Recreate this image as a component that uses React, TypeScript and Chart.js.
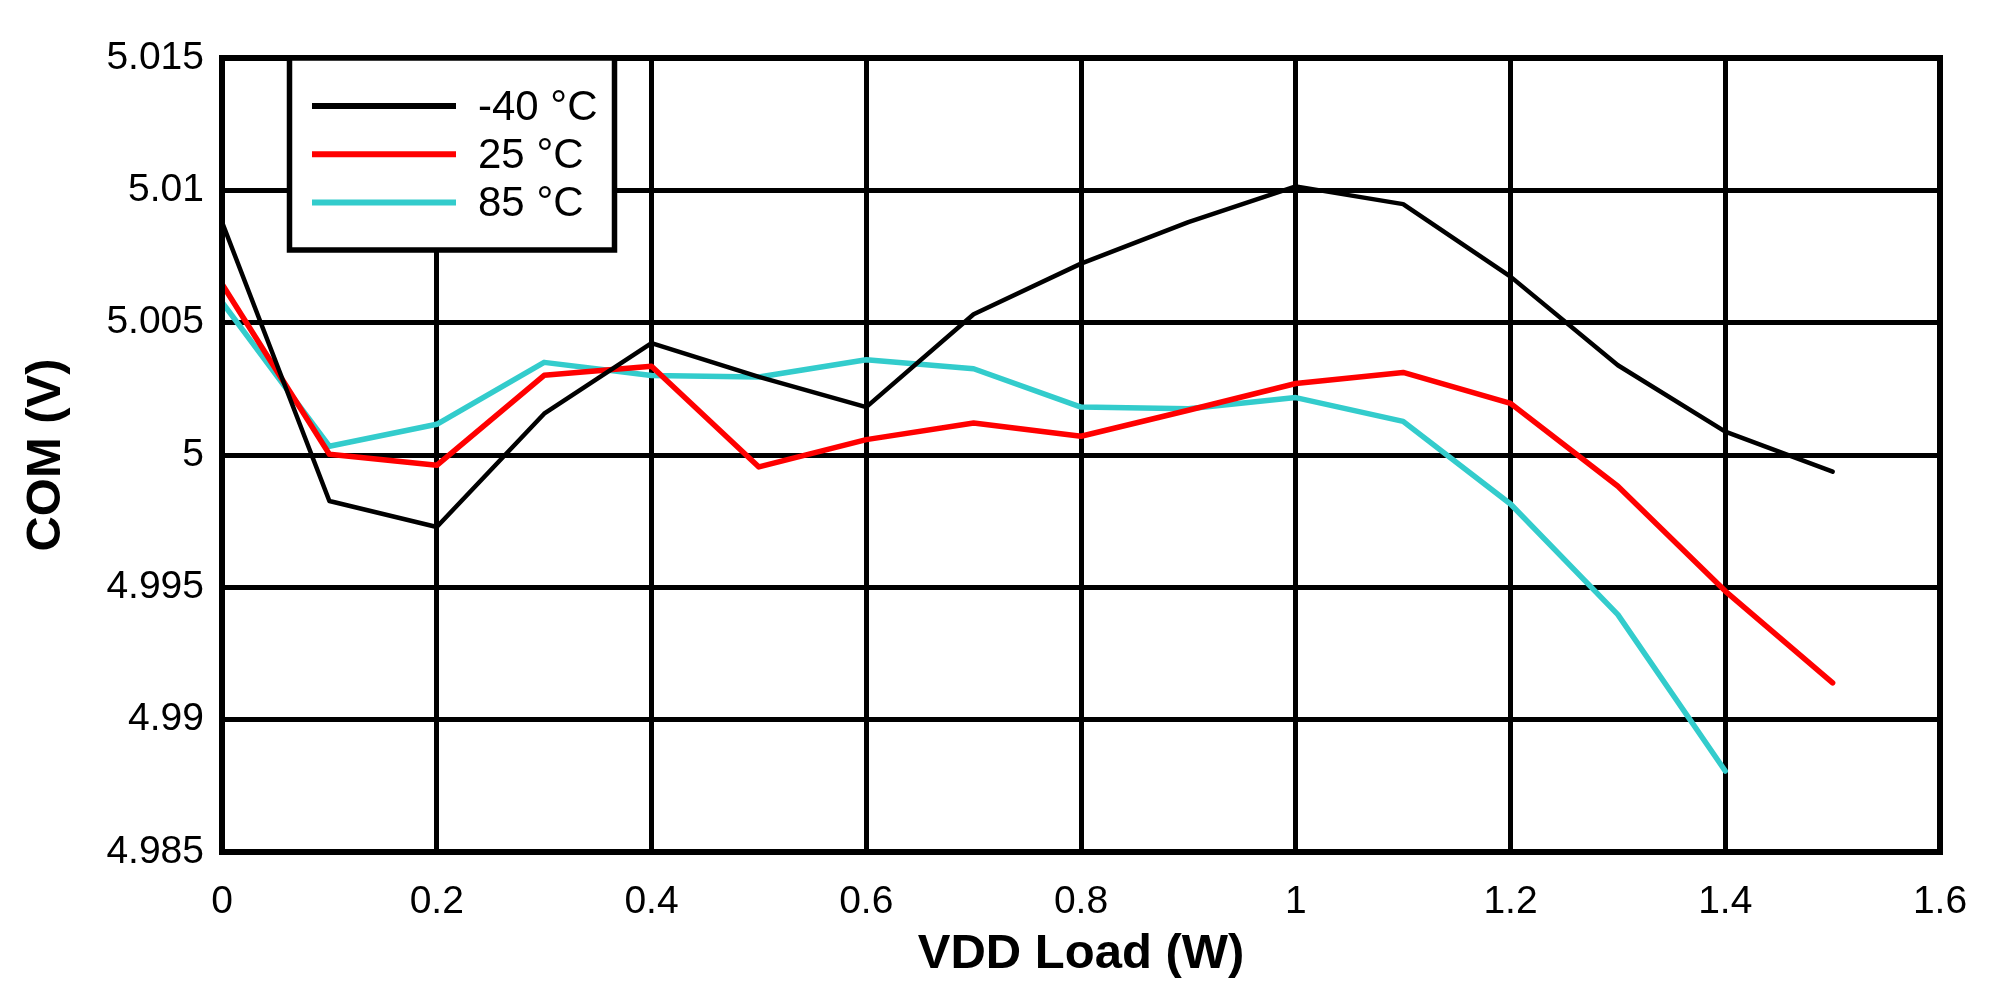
import React, { useEffect, useRef } from "react";
import { Chart, registerables } from "chart.js";

Chart.register(...registerables);

const xValues = [0, 0.1, 0.2, 0.3, 0.4, 0.5, 0.6, 0.7, 0.8, 0.9, 1.0, 1.1, 1.2, 1.3, 1.4, 1.5];
const seriesM40 = [5.0088, 4.99826, 4.99728, 5.00156, 5.00423, 5.00295, 5.00181, 5.00532, 5.00723, 5.0088, 5.01015, 5.00948, 5.00674, 5.00339, 5.00088, 4.99937];
const series25 = [5.00646, 5.00003, 4.99961, 5.00301, 5.00335, 4.99955, 5.00058, 5.00121, 5.00071, 5.00169, 5.0027, 5.00312, 5.00195, 4.99882, 4.99486, 4.99139];
const series85 = [5.00578, 5.00033, 5.00116, 5.0035, 5.003, 5.00295, 5.0036, 5.00326, 5.00181, 5.00175, 5.00217, 5.00127, 4.99815, 4.99397, 4.98806];
const seriesLabels = ["-40 °C", "25 °C", "85 °C"];
const seriesColors = ["#000000", "#FF0000", "#33CCCC"];
const seriesWidths = [4.5, 5.5, 5.5];
const xTicks = [0, 0.2, 0.4, 0.6, 0.8, 1, 1.2, 1.4, 1.6];
const yTicks = [4.985, 4.99, 4.995, 5, 5.005, 5.01, 5.015];
const xTitle = "VDD Load (W)";
const yTitle = "COM (V)";

const FONT = "'Liberation Sans', Arial, Helvetica, sans-serif";

const toPoints = (vals: number[]) => vals.map((v, i) => ({ x: xValues[i], y: v }));

const framePlugin = {
  id: "frameAndLegend",
  afterDatasetsDraw(chart: any) {
    const { ctx, chartArea: ca } = chart;
    ctx.save();
    // plot frame
    ctx.strokeStyle = "#000";
    ctx.lineWidth = 6;
    ctx.strokeRect(ca.left, ca.top, ca.right - ca.left, ca.bottom - ca.top);
    // legend box
    const bx = ca.left + 67.5;
    const by = ca.top;
    const bw = 325;
    const bh = 192;
    ctx.fillStyle = "#fff";
    ctx.fillRect(bx, by, bw, bh);
    ctx.lineWidth = 5.5;
    ctx.strokeRect(bx, by, bw, bh);
    chart.data.datasets.forEach((ds: any, i: number) => {
      const y = ca.top + 48 + i * 48.3;
      ctx.strokeStyle = ds.borderColor;
      ctx.lineWidth = 6;
      ctx.beginPath();
      ctx.moveTo(ca.left + 90, y);
      ctx.lineTo(ca.left + 234, y);
      ctx.stroke();
      ctx.fillStyle = "#000";
      ctx.font = `42px ${FONT}`;
      ctx.textAlign = "left";
      ctx.textBaseline = "middle";
      ctx.fillText(ds.label, ca.left + 256, y + 2);
    });
    ctx.restore();
  },
};

export default function App() {
  const ref = useRef<HTMLCanvasElement | null>(null);
  useEffect(() => {
    document.body.style.margin = "0";
    const canvas = ref.current!;
    const chart = new Chart(canvas, {
      type: "line",
      data: {
        datasets: [
          { label: seriesLabels[0], data: toPoints(seriesM40), borderColor: seriesColors[0], borderWidth: seriesWidths[0] },
          { label: seriesLabels[1], data: toPoints(series25), borderColor: seriesColors[1], borderWidth: seriesWidths[1] },
          { label: seriesLabels[2], data: toPoints(series85), borderColor: seriesColors[2], borderWidth: seriesWidths[2] },
        ],
      },
      options: {
        animation: false,
        responsive: false,
        maintainAspectRatio: false,
        devicePixelRatio: 1,
        elements: { point: { radius: 0 }, line: { tension: 0, fill: false, borderJoinStyle: "round", borderCapStyle: "round" } },
        layout: { padding: { left: 0, top: 58, right: 57, bottom: 0 } },
        plugins: { legend: { display: false }, tooltip: { enabled: false } },
        scales: {
          x: {
            type: "linear",
            min: 0,
            max: 1.6,
            afterBuildTicks: (s: any) => {
              s.ticks = xTicks.map((v) => ({ value: v }));
            },
            afterFit: (s: any) => {
              s.height = 143;
            },
            ticks: {
              color: "#000",
              font: { family: FONT, size: 39 },
              padding: 27,
              maxRotation: 0,
              autoSkip: false,
              callback: (v: any) => String(parseFloat(Number(v).toFixed(3))),
            },
            grid: { color: "#000", lineWidth: 5, drawTicks: false },
            border: { display: false },
            title: {
              display: true,
              text: xTitle,
              color: "#000",
              font: { family: FONT, size: 49, weight: "bold" },
              padding: { top: 0, bottom: 11 },
            },
          },
          y: {
            type: "linear",
            min: 4.985,
            max: 5.015,
            afterBuildTicks: (s: any) => {
              s.ticks = yTicks.map((v) => ({ value: v }));
            },
            afterFit: (s: any) => {
              s.width = 222;
            },
            ticks: {
              color: "#000",
              font: { family: FONT, size: 39 },
              padding: 18,
              autoSkip: false,
              callback: (v: any) => String(parseFloat(Number(v).toFixed(3))),
            },
            grid: { color: "#000", lineWidth: 5, drawTicks: false },
            border: { display: false },
            title: {
              display: true,
              text: yTitle,
              color: "#000",
              font: { family: FONT, size: 49, weight: "bold" },
              padding: { top: 17, bottom: 0 },
            },
          },
        },
      },
      plugins: [framePlugin],
    });
    return () => chart.destroy();
  }, []);
  return (
    <div style={{ width: 1997, height: 995, background: "#fff" }}>
      <canvas ref={ref} width={1997} height={995} style={{ display: "block", width: 1997, height: 995 }} />
    </div>
  );
}
